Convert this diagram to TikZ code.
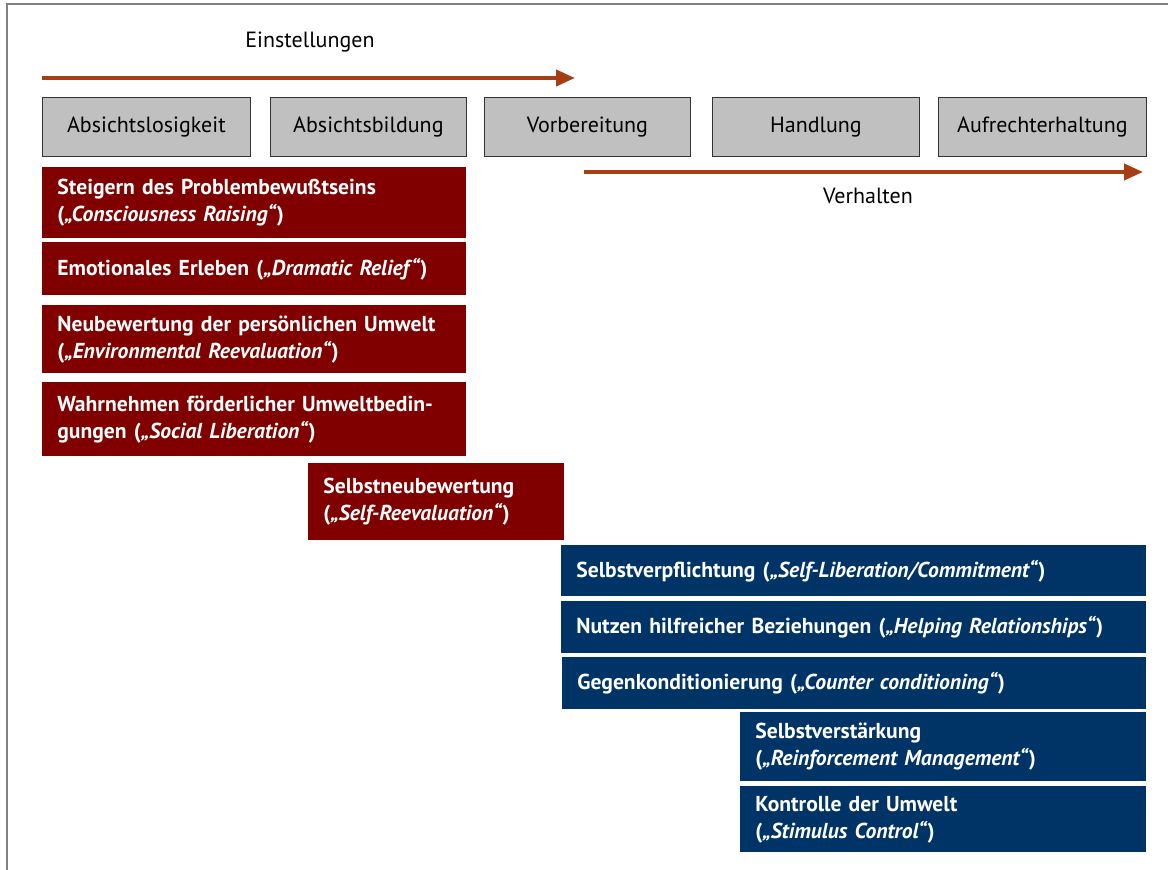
\documentclass[tikz,border=0pt]{standalone}
\usepackage{fontspec}
\setmainfont{PT Sans}
\usepackage{tikz}
\usetikzlibrary{arrows.meta}
\definecolor{stagegray}{RGB}{192,192,192}
\definecolor{attred}{RGB}{128,0,0}
\definecolor{behblue}{RGB}{0,51,102}
\definecolor{trendbrown}{RGB}{166,62,20}
\tikzset{>={Triangle[length=9.5pt,width=8pt]}}
\newcommand\boxfont{\fontsize{11pt}{13.5pt}\selectfont}
\newcommand\procfont{\fontsize{10.8pt}{13.5pt}\selectfont\bfseries}

\begin{document}
\begin{tikzpicture}[x=0.5pt,y=-0.5pt,
    stage/.style={draw=black!80,fill=stagegray,anchor=north west,
        minimum height=29.5pt,inner sep=0pt,font=\boxfont},
    proc/.style={anchor=north west,text=white,font=\procfont,
        align=left,inner xsep=7.5pt,inner ysep=0pt},
    attitude/.style={proc,fill=attred},
    behaviour/.style={proc,fill=behblue},
    trend/.style={draw=trendbrown,line width=2pt,->}]
    \useasboundingbox (0,0) rectangle (1168,870);
    \draw[gray,line width=1pt] (7,870) -- (7,4) -- (1168,4);
    % stages
    \node[stage,minimum width=104pt]   (precon) at (42,97)  {Absichtslosigkeit};
    \node[stage,minimum width=98pt]    (contem) at (270,97) {Absichtsbildung};
    \node[stage,minimum width=103pt]   (prep)   at (484,97) {Vorbereitung};
    \node[stage,minimum width=103.5pt] (action) at (712,97) {Handlung};
    \node[stage,minimum width=104pt]   (maint)  at (938,97) {Aufrechterhaltung};
    % trends
    \node[font=\boxfont] (attlabel) at (310,42)  {Einstellungen};
    \node[font=\boxfont] (behlabel) at (868,196) {Verhalten};
    \coordinate (attS) at (42,78);
    \coordinate (attE) at (575,78);
    \coordinate (behS) at (584,172);
    \coordinate (behE) at (1143,172);
    \draw[trend] (attS) -- (attE);
    \draw[trend] (behS) -- (behE);
    % attitude processes
    \node[attitude,text width=197pt,minimum height=35.5pt] (consc) at (42,167)
        {Steigern des Problembewußtseins\\(\textit{„Consciousness Raising“})};
    \node[attitude,text width=197pt,minimum height=26.5pt] (relief) at (42,242)
        {Emotionales Erleben (\textit{„Dramatic Relief“})};
    \node[attitude,text width=197pt,minimum height=34pt] (envreev) at (42,305)
        {Neubewertung der persönlichen Umwelt\\(\textit{„Environmental Reevaluation“})};
    \node[attitude,text width=197pt,minimum height=37pt] (sociallib) at (42,382)
        {Wahrnehmen förderlicher Umweltbedin-\\gungen (\textit{„Social Liberation“})};
    \node[attitude,text width=113pt,minimum height=38.5pt] (selfreev) at (308,463)
        {Selbstneubewertung\\(\textit{„Self-Reevaluation“})};
    % behaviour processes
    \node[behaviour,text width=277.5pt,minimum height=25.5pt] (selflib) at (561,545)
        {Selbstverpflichtung (\textit{„Self-Liberation/Commitment“})};
    \node[behaviour,text width=277.5pt,minimum height=26pt] (helping) at (561,601)
        {Nutzen hilfreicher Beziehungen (\textit{„Helping Relationships“})};
    \node[behaviour,text width=277pt,minimum height=26pt] (counter) at (562,657)
        {Gegenkonditionierung (\textit{„Counter conditioning“})};
    \node[behaviour,text width=188pt,minimum height=34.5pt] (reinf) at (740,712)
        {Selbstverstärkung\\(\textit{„Reinforcement Management“})};
    \node[behaviour,text width=188pt,minimum height=33pt] (stimulus) at (740,786)
        {Kontrolle der Umwelt\\(\textit{„Stimulus Control“})};
\end{tikzpicture}
\end{document}
